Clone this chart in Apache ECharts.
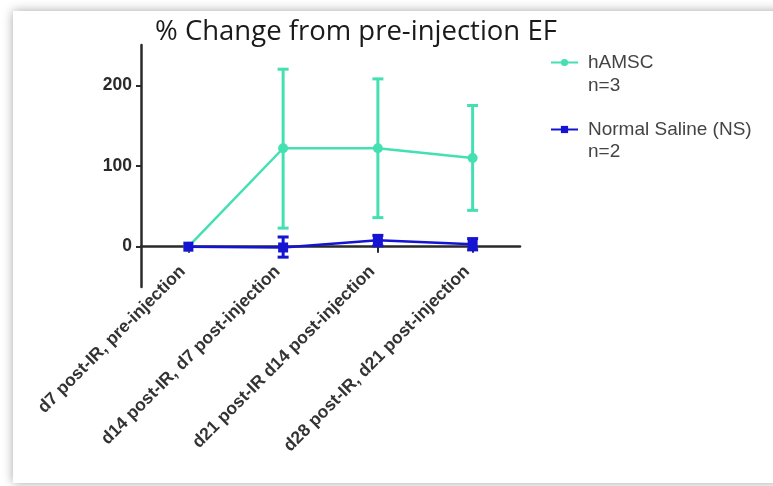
<!DOCTYPE html>
<html>
<head>
<meta charset="utf-8">
<script src="https://cdn.jsdelivr.net/npm/echarts@6/dist/echarts.min.js"></script>
<style>html,body{margin:0;padding:0;background:#fff}#c{width:773px;height:486px}</style>
</head>
<body>
<div id="c"></div>
<script>
const categories = ['d7 post-IR, pre-injection', 'd14 post-IR, d7 post-injection', 'd21 post-IR d14 post-injection', 'd28 post-IR, d21 post-injection'];
const hamscMean = [0, 122, 122, 110];
const hamscLow = [0, 23, 36, 45];
const hamscHigh = [0, 220, 208, 175];
const nsMean = [0, -1, 8, 3];
const nsLow = [0, -13, 1, -4];
const nsHigh = [0, 12, 14, 10];
const yTicks = [0, 100, 200];

const TEAL = '#45e0b2';
const BLUE = '#1414d2';

function errData(low, high) {
  return categories.map((c, i) => [i, low[i], high[i]]);
}
function errRender(color) {
  return function (params, api) {
    const x = api.value(0);
    const lo = api.coord([x, api.value(1)]);
    const hi = api.coord([x, api.value(2)]);
    if (Math.abs(lo[1] - hi[1]) < 0.5) return null;
    const hw = 5.5;
    const st = { stroke: color, lineWidth: 3 };
    return {
      type: 'group',
      children: [
        { type: 'line', shape: { x1: lo[0], y1: lo[1], x2: hi[0], y2: hi[1] }, style: st },
        { type: 'line', shape: { x1: lo[0] - hw, y1: lo[1], x2: lo[0] + hw, y2: lo[1] }, style: st },
        { type: 'line', shape: { x1: hi[0] - hw, y1: hi[1], x2: hi[0] + hw, y2: hi[1] }, style: st }
      ]
    };
  };
}

const legendText = { fontFamily: 'Liberation Sans', fontSize: 19, color: '#444', padding: [0, 0, 0, 5] };

const chart = echarts.init(document.getElementById('c'));
chart.setOption({
  backgroundColor: '#ffffff',
  animation: false,
  graphic: [
    { type: 'rect', z: -10, shape: { x: 13, y: 11, width: 800, height: 472 },
      style: { fill: '#ffffff', shadowBlur: 10, shadowColor: 'rgba(0,0,0,0.35)' } },
    { type: 'text', left: 588, top: 76, style: { text: 'n=3', fontFamily: 'Liberation Sans', fontSize: 19, fill: '#444' } },
    { type: 'text', left: 588, top: 142, style: { text: 'n=2', fontFamily: 'Liberation Sans', fontSize: 19, fill: '#444' } }
  ],
  title: {
    text: '% Change from pre-injection EF',
    left: 150, top: 13,
    textStyle: { fontFamily: 'Open Sans', fontWeight: 'normal', fontSize: 27.5, color: '#1a1a1a' }
  },
  legend: [
    { data: [{ name: 'hAMSC' }], left: 545, top: 48, itemWidth: 27, itemHeight: 9, itemGap: 14,
      textStyle: legendText },
    { data: [{ name: 'Normal Saline (NS)' }], left: 545, top: 115, itemWidth: 27, itemHeight: 9, itemGap: 14,
      textStyle: legendText }
  ],
  grid: { left: 141, right: 253, top: 45, bottom: 199, containLabel: false },
  xAxis: {
    type: 'category',
    data: categories,
    boundaryGap: true,
    axisLine: { onZero: true, lineStyle: { color: '#2a2a2a', width: 2.5 } },
    axisTick: { show: true, alignWithLabel: true, length: 6, lineStyle: { color: '#2a2a2a', width: 2 } },
    axisLabel: { rotate: 45, margin: -24, interval: 0, padding: [0, 8, 0, 0], fontFamily: 'Liberation Sans', fontWeight: 'bold', fontSize: 17.5, color: '#333' }
  },
  yAxis: {
    type: 'value',
    min: -50, max: 250,
    splitLine: { show: false },
    axisLine: { show: true, onZero: false, lineStyle: { color: '#2a2a2a', width: 2.5 } },
    axisTick: { show: true, length: 5, customValues: yTicks, lineStyle: { color: '#2a2a2a', width: 2 } },
    axisLabel: { customValues: yTicks, margin: 9, fontFamily: 'Liberation Sans', fontWeight: 'bold', fontSize: 17.5, color: '#2a2a2a' }
  },
  series: [
    { name: 'hAMSC', type: 'line', data: hamscMean, symbol: 'circle', symbolSize: 10,
      itemStyle: { color: TEAL }, lineStyle: { color: TEAL, width: 2.5 }, z: 3 },
    { name: 'hAMSC-err', type: 'custom', data: errData(hamscLow, hamscHigh), renderItem: errRender(TEAL), z: 2, silent: true },
    { name: 'Normal Saline (NS)', type: 'line', data: nsMean, symbol: 'rect', symbolSize: 10,
      itemStyle: { color: BLUE }, lineStyle: { color: BLUE, width: 2.5 }, z: 5 },
    { name: 'NS-err', type: 'custom', data: errData(nsLow, nsHigh), renderItem: errRender(BLUE), z: 4, silent: true }
  ]
});
</script>
</body>
</html>
